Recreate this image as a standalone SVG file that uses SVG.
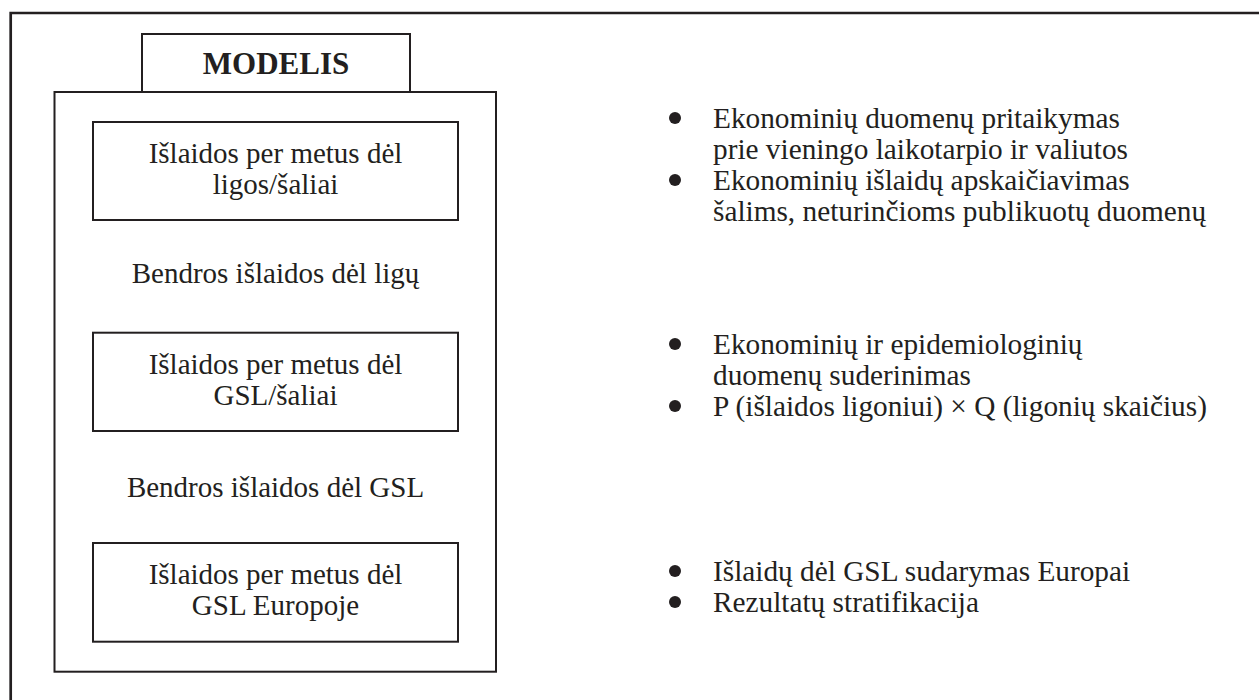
<svg xmlns="http://www.w3.org/2000/svg" width="1259" height="700" viewBox="0 0 1259 700">
  <style>
    .frame { fill: none; stroke: #231f20; stroke-width: 2.7; }
    .box { fill: #ffffff; stroke: #231f20; stroke-width: 2; }
    .t { font-family: "Liberation Serif", "Times New Roman", serif; font-size: 29px; fill: #231f20; }
    .r { font-size: 29.3px; }
    .c { text-anchor: middle; }
    .title { font-family: "Liberation Serif", "Times New Roman", serif; font-size: 31px; font-weight: bold; fill: #231f20; text-anchor: middle; }
    .dot { fill: #231f20; }
  </style>
  <rect width="1259" height="700" fill="#ffffff"/>
  <path class="frame" d="M 10.7 700 V 13 H 1259"/>

  <g id="modelis-title">
    <rect class="box" x="142" y="34" width="268" height="58"/>
    <text class="title" x="276" y="74">MODELIS</text>
  </g>

  <g id="modelis">
    <rect class="box" x="54.5" y="92" width="441.5" height="579.7"/>
  </g>

  <g id="box-ligos">
    <rect class="box" x="93" y="122" width="365" height="98"/>
    <text class="t c" x="275.5" y="163">Išlaidos per metus dėl</text>
    <text class="t c" x="275.5" y="194">ligos/šaliai</text>
  </g>

  <g id="label-ligu">
    <text class="t c" x="275.5" y="283">Bendros išlaidos dėl ligų</text>
  </g>

  <g id="box-gsl">
    <rect class="box" x="93" y="332.7" width="365" height="98.3"/>
    <text class="t c" x="275.5" y="373.5">Išlaidos per metus dėl</text>
    <text class="t c" x="275.5" y="405">GSL/šaliai</text>
  </g>

  <g id="label-gsl">
    <text class="t c" x="275.5" y="496.7">Bendros išlaidos dėl GSL</text>
  </g>

  <g id="box-europa">
    <rect class="box" x="93" y="543" width="365" height="98.7"/>
    <text class="t c" x="275.5" y="583.5">Išlaidos per metus dėl</text>
    <text class="t c" x="275.5" y="615">GSL Europoje</text>
  </g>

  <g id="bullets-1">
    <circle class="dot" cx="675" cy="118" r="6"/>
    <text class="t r" x="713" y="128">Ekonominių duomenų pritaikymas</text>
    <text class="t r" x="713" y="159">prie vieningo laikotarpio ir valiutos</text>
    <circle class="dot" cx="675" cy="180" r="6"/>
    <text class="t r" x="713" y="190">Ekonominių išlaidų apskaičiavimas</text>
    <text class="t r" x="713" y="221">šalims, neturinčioms publikuotų duomenų</text>
  </g>

  <g id="bullets-2">
    <circle class="dot" cx="675" cy="344" r="6"/>
    <text class="t r" x="713" y="354">Ekonominių ir epidemiologinių</text>
    <text class="t r" x="713" y="385">duomenų suderinimas</text>
    <circle class="dot" cx="675" cy="406" r="6"/>
    <text class="t r" x="713" y="416">P (išlaidos ligoniui) × Q (ligonių skaičius)</text>
  </g>

  <g id="bullets-3">
    <circle class="dot" cx="675" cy="571" r="6"/>
    <text class="t r" x="713" y="581">Išlaidų dėl GSL sudarymas Europai</text>
    <circle class="dot" cx="675" cy="602" r="6"/>
    <text class="t r" x="713" y="612">Rezultatų stratifikacija</text>
  </g>

  <g id="connectors"/>
</svg>
